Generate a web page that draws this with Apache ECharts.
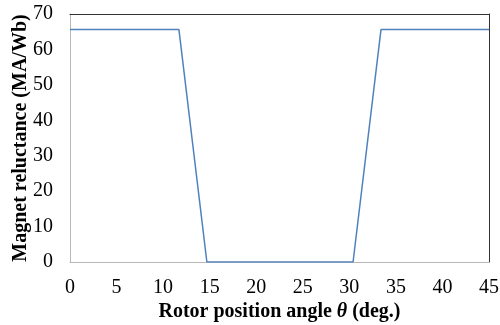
<!DOCTYPE html>
<html>
<head>
<meta charset="utf-8">
<script src="https://cdn.jsdelivr.net/npm/echarts@6/dist/echarts.min.js"></script>
<style>
html,body{margin:0;padding:0;background:#fff;}
#chart{width:500px;height:325px;}
</style>
</head>
<body>
<div id="chart"></div>
<script>
// rotor angle (deg) and magnet reluctance (MA/Wb)
const angles = [0, 11.7, 14.7, 30.4, 33.4, 45]
const reluctance = [65.6, 65.6, 0, 0, 65.6, 65.6]
const xTicks = [0, 5, 10, 15, 20, 25, 30, 35, 40, 45]
const yTicks = [0, 10, 20, 30, 40, 50, 60, 70]

const font = '"Liberation Serif", "Times New Roman", serif'
const chart = echarts.init(document.getElementById('chart'))

const option = {
    animation: false,
    backgroundColor: '#fff',
    grid: {left: 70, right: 11, top: 14, bottom: 63, outerBoundsMode: 'none', containLabel: false},
    xAxis: [{
        type: 'value',
        min: xTicks[0],
        max: xTicks[xTicks.length - 1],
        interval: 5,
        axisLine: {show: true, onZero: false, lineStyle: {color: '#b8b8b8', width: 1}},
        axisTick: {show: false},
        splitLine: {show: false},
        axisLabel: {color: '#000', fontFamily: font, fontSize: 20, margin: 16},
        name: '{b|Rotor position angle }{i|θ}{b| (deg.)}',
        nameLocation: 'middle',
        nameGap: 40,
        nameMoveOverlap: false,
        nameTextStyle: {
            rich: {
                b: {fontFamily: font, fontSize: 20, fontWeight: 'bold', color: '#000'},
                i: {fontFamily: font, fontSize: 20, fontWeight: 'bold', fontStyle: 'italic', color: '#000'}
            }
        }
    }, {
        type: 'value',
        position: 'top',
        min: 0, max: 45,
        axisLine: {show: true, onZero: false, lineStyle: {color: '#333', width: 1}},
        axisTick: {show: false},
        axisLabel: {show: false},
        splitLine: {show: false}
    }],
    yAxis: [{
        type: 'value',
        min: yTicks[0],
        max: yTicks[yTicks.length - 1],
        interval: 10,
        axisLine: {show: true, onZero: false, lineStyle: {color: '#b8b8b8', width: 1}},
        axisTick: {show: false},
        splitLine: {show: false},
        axisLabel: {color: '#000', fontFamily: font, fontSize: 20, margin: 17},
        name: 'Magnet reluctance (MA/Wb)',
        nameLocation: 'middle',
        nameGap: 43,
        nameMoveOverlap: false,
        nameTextStyle: {fontFamily: font, fontSize: 20, lineHeight: 12, fontWeight: 'bold', color: '#000'}
    }, {
        type: 'value',
        position: 'right',
        min: 0, max: 70,
        axisLine: {show: true, onZero: false, lineStyle: {color: '#333', width: 1}},
        axisTick: {show: false},
        axisLabel: {show: false},
        splitLine: {show: false}
    }],
    series: [{
        type: 'line',
        data: angles.map((a, i) => [a, reluctance[i]]),
        showSymbol: false,
        lineStyle: {color: '#4f81bd', width: 1.5}
    }]
}
chart.setOption(option)
</script>
</body>
</html>
